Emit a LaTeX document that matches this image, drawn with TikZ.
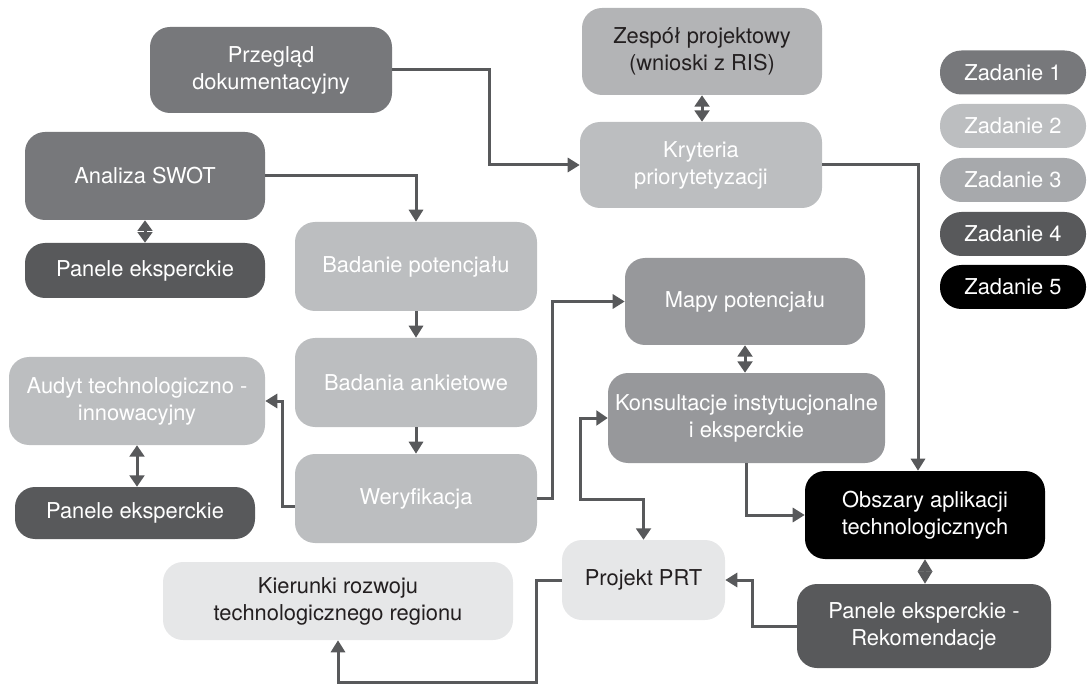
\documentclass[tikz,border=0pt]{standalone}
\usepackage{fontspec}
\setmainfont{TeX Gyre Heros}
\usetikzlibrary{arrows.meta,calc}
\definecolor{zA}{HTML}{77787B}
\definecolor{zB}{HTML}{BCBEC0}
\definecolor{zC}{HTML}{A7A9AC}
\definecolor{zCm}{HTML}{97989B}
\definecolor{zD}{HTML}{58595B}
\definecolor{zE}{HTML}{000000}
\definecolor{zS}{HTML}{B3B4B6}
\definecolor{zL}{HTML}{E6E7E8}
\definecolor{lc}{HTML}{58595B}
\definecolor{tk}{HTML}{231F20}
\tikzset{
  bx/.style 2 args={rectangle, rounded corners=15pt, minimum width=#1*0.75pt, minimum height=#2*0.75pt, inner sep=0pt, align=center, font=\fontsize{16.4}{20.25}\selectfont},
  pill/.style={bx={146}{44}, rounded corners=16pt},
  fA/.style={fill=zA, text=white},
  fB/.style={fill=zB, text=white},
  fC/.style={fill=zC, text=white},
  fCm/.style={fill=zCm, text=white},
  fD/.style={fill=zD, text=white},
  fE/.style={fill=zE, text=white},
  fS/.style={fill=zS, text=tk},
  fL/.style={fill=zL, text=tk},
  conn/.style={draw=lc, line width=2.25pt, -{Triangle[length=9pt,width=10.5pt]}},
  dbl/.style={draw=lc, line width=2.25pt, {Triangle[length=8.5pt,width=11pt]}-{Triangle[length=8.5pt,width=11pt]}},
  dblshort/.style={draw=lc, line width=2.25pt, {Triangle[length=8pt,width=11pt]}-{Triangle[length=8pt,width=11pt]}},
  diam/.style={draw=lc, line width=1pt, {Triangle[length=9.3pt,width=11pt]}-{Triangle[length=9.3pt,width=11pt]}},
}
\begin{document}
\begin{tikzpicture}[x=0.75pt,y=-0.75pt]
\useasboundingbox (0,0) rectangle (1089,684);
% nodes
\node[bx={242}{86}, fA] (prz) at (271,70) {Przegląd\\dokumentacyjny};
\node[bx={240}{87}, fS] (zes) at (702,51.5) {Zespół projektowy\\(wnioski z RIS)};
\node[bx={242}{86}, fB] (kry) at (701,165) {Kryteria\\priorytetyzacji};
\node[bx={240}{88}, fA] (swot) at (145,176) {Analiza SWOT};
\node[bx={240}{55}, fD] (pan1) at (145,270.5) {Panele eksperckie};
\node[bx={242}{89}, fB] (bad) at (416,266.5) {Badanie potencjału};
\node[bx={242}{89}, fB] (ank) at (416,382.5) {Badania ankietowe};
\node[bx={242}{89}, fB] (wer) at (416,498.5) {Weryfikacja};
\node[bx={256}{88}, fB] (aud) at (137,401) {Audyt technologiczno -\\innowacyjny};
\node[bx={240}{52}, fD] (pan2) at (135,513) {Panele eksperckie};
\node[bx={240}{87}, fCm] (map) at (745,301.5) {Mapy potencjału};
\node[bx={277}{90}, fCm] (kon) at (746.5,418) {Konsultacje instytucjonalne\\i eksperckie};
\node[bx={240}{88}, fE] (obs) at (925,515) {Obszary aplikacji\\technologicznych};
\node[bx={254}{84}, fD] (rek) at (924,626) {Panele eksperckie -\\Rekomendacje};
\node[bx={163}{80}, fL] (prt) at (643.5,580) {Projekt PRT};
\node[bx={350}{78}, fL] (kie) at (338,601) {Kierunki rozwoju\\technologicznego regionu};
% legend
\node[pill, fA] (z1) at (1013,72.5) {Zadanie 1};
\node[pill, fB] (z2) at (1013,126) {Zadanie 2};
\node[pill, fC] (z3) at (1013,180) {Zadanie 3};
\node[pill, fD] (z4) at (1013,234) {Zadanie 4};
\node[pill, fE] (z5) at (1013,287) {Zadanie 5};
% connectors
\draw[conn] (prz.east) -- ++(97,0) |- (kry.west);
\draw[dbl] (zes.south) -- (zes.south |- kry.north);
\draw[conn] (kry.east) -| ($(obs.north)+(-7,0)$);
\draw[conn] (swot.east) -| (bad.north);
\draw[dblshort] (swot.south) -- (pan1.north);
\draw[conn] (bad.south) -- (ank.north);
\draw[conn] (ank.south) -- (wer.north);
\draw[conn] ($(wer.west)+(0,8)$) -- ++(-12,0) |- (aud.east);
\draw[dbl] (aud.south) -- (aud.south |- pan2.north);
\draw[conn] (wer.east) -- ++(15,0) |- (map.west);
\draw[dbl] (map.south) -- (map.south |- kon.north);
\draw[dbl] (kon.west) -- ++(-27,0) |- ($(prt.north)+(0,-40)$) -- (prt.north);
\draw[conn] (kon.south) |- (obs.west);
\draw[diam] (obs.south) -- (obs.south |- rek.north);
\draw[conn] (rek.west) -- ++(-44,0) |- (prt.east);
\draw[conn] (prt.west) -- ++(-25,0) |- ($(kie.south)+(0,42)$) -- (kie.south);
\end{tikzpicture}
\end{document}
